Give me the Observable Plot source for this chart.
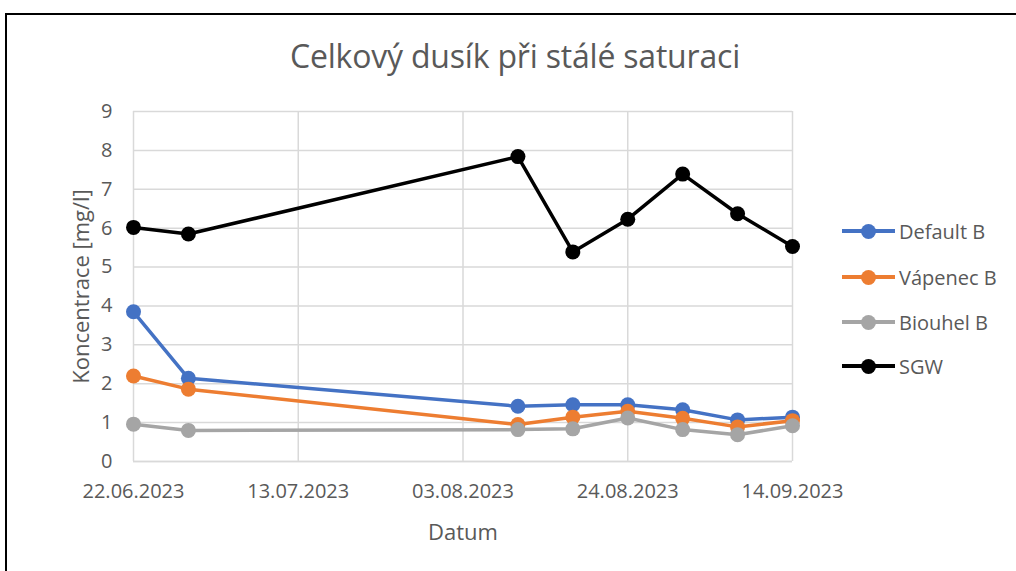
<!DOCTYPE html>
<html>
<head>
<meta charset="utf-8">
<script src="https://cdn.jsdelivr.net/npm/d3@7"></script>
<script src="https://cdn.jsdelivr.net/npm/@observablehq/plot@0.6"></script>
<style>
  html, body { margin: 0; padding: 0; background: #fff; }
  #wrap { position: relative; width: 1016px; height: 571px; overflow: hidden; font-family: "Open Sans", sans-serif; }
  #frame { position: absolute; left: 5px; top: 13px; width: 1100px; height: 700px; border-left: 2px solid #000; border-top: 2px solid #000; }
  #title { position: absolute; left: 0; width: 1030px; top: 34px; text-align: center; font-size: 32px; color: #595959; letter-spacing: -0.2px; }
  #chart { position: absolute; left: 0; top: 0; }
  .leg { position: absolute; left: 842px; height: 24px; display: flex; align-items: center; font-size: 20px; color: #595959; }
  .leg .sw { position: relative; width: 53px; height: 24px; margin-right: 4px; }
  .leg .sw .ln { position: absolute; left: 0; right: 0; top: 10px; height: 4px; }
  .leg .sw .dt { position: absolute; left: 19px; top: 5px; width: 15px; height: 15px; border-radius: 50%; }
</style>
</head>
<body>
<div id="wrap">
  <div id="frame"></div>
  <div id="chart"></div>
  <div id="title"></div>
  <div id="legend"></div>
</div>
<script>
const titleText = "Celkový dusík při stálé saturaci";
const xLabel = "Datum";
const yLabel = "Koncentrace [mg/l]";
const dates = ["2023-06-22", "2023-06-29", "2023-08-10", "2023-08-17", "2023-08-24", "2023-08-31", "2023-09-07", "2023-09-14"];
const seriesNames = ["Default B", "Vápenec B", "Biouhel B", "SGW"];
const seriesColors = ["#4472C4", "#ED7D31", "#A5A5A5", "#000000"];
const defaultB = [3.85, 2.14, 1.42, 1.46, 1.46, 1.33, 1.07, 1.14];
const vapenecB = [2.20, 1.86, 0.95, 1.14, 1.29, 1.11, 0.89, 1.05];
const biouhelB = [0.96, 0.80, 0.82, 0.84, 1.12, 0.82, 0.69, 0.92];
const sgw = [6.02, 5.85, 7.84, 5.39, 6.23, 7.39, 6.37, 5.53];
const xTicks = ["2023-06-22", "2023-07-13", "2023-08-03", "2023-08-24", "2023-09-14"];
const yTicks = [0, 1, 2, 3, 4, 5, 6, 7, 8, 9];

const parse = d3.utcParse("%Y-%m-%d");
const fmt = d3.utcFormat("%d.%m.%Y");
const valuesList = [defaultB, vapenecB, biouhelB, sgw];
const data = [];
seriesNames.forEach((s, i) => {
  valuesList[i].forEach((v, j) => data.push({series: s, date: parse(dates[j]), value: v}));
});

const marks = [
  Plot.gridX(xTicks.map(parse), {stroke: "#d9d9d9", strokeOpacity: 1, strokeWidth: 1.5}),
  Plot.gridY(yTicks, {stroke: "#d9d9d9", strokeOpacity: 1, strokeWidth: 1.5}),
  Plot.ruleY([0], {stroke: "#d9d9d9", strokeWidth: 1.5}),
  Plot.axisX({ticks: xTicks.map(parse), tickFormat: fmt, tickSize: 0, tickPadding: 22, fontSize: 20, label: xLabel, labelAnchor: "center", labelArrow: "none", labelOffset: 78, color: "#595959"}),
  Plot.axisY({ticks: yTicks, tickSize: 0, tickPadding: 21, fontSize: 20, label: yLabel, labelAnchor: "center", labelArrow: "none", labelOffset: 60, color: "#595959"})
];
seriesNames.forEach((s, i) => {
  const sub = data.filter(d => d.series === s);
  marks.push(Plot.line(sub, {x: "date", y: "value", stroke: seriesColors[i], strokeWidth: 3.5, strokeLinejoin: "round"}));
  marks.push(Plot.dot(sub, {x: "date", y: "value", fill: seriesColors[i], r: 7.5, stroke: "none"}));
});

const chart = Plot.plot({
  width: 1016,
  height: 571,
  marginLeft: 133,
  marginRight: 224,
  marginTop: 111,
  marginBottom: 110,
  style: {fontFamily: "'Open Sans', sans-serif", fontSize: "20px", color: "#595959", background: "transparent"},
  x: {type: "utc", domain: [parse(dates[0]), parse(dates[dates.length - 1])]},
  y: {domain: [0, 9]},
  marks
});
chart.querySelectorAll("g[aria-label='x-axis label'] text, g[aria-label='y-axis label'] text").forEach(t => { t.style.fontSize = "22px"; });
document.getElementById("chart").appendChild(chart);
document.getElementById("title").textContent = titleText;

const legendTops = [219, 265, 310, 354];
const leg = document.getElementById("legend");
seriesNames.forEach((s, i) => {
  const row = document.createElement("div");
  row.className = "leg";
  row.style.top = legendTops[i] + "px";
  row.innerHTML = `<div class="sw"><div class="ln" style="background:${seriesColors[i]}"></div><div class="dt" style="background:${seriesColors[i]}"></div></div><span>${s}</span>`;
  leg.appendChild(row);
});
</script>
</body>
</html>
